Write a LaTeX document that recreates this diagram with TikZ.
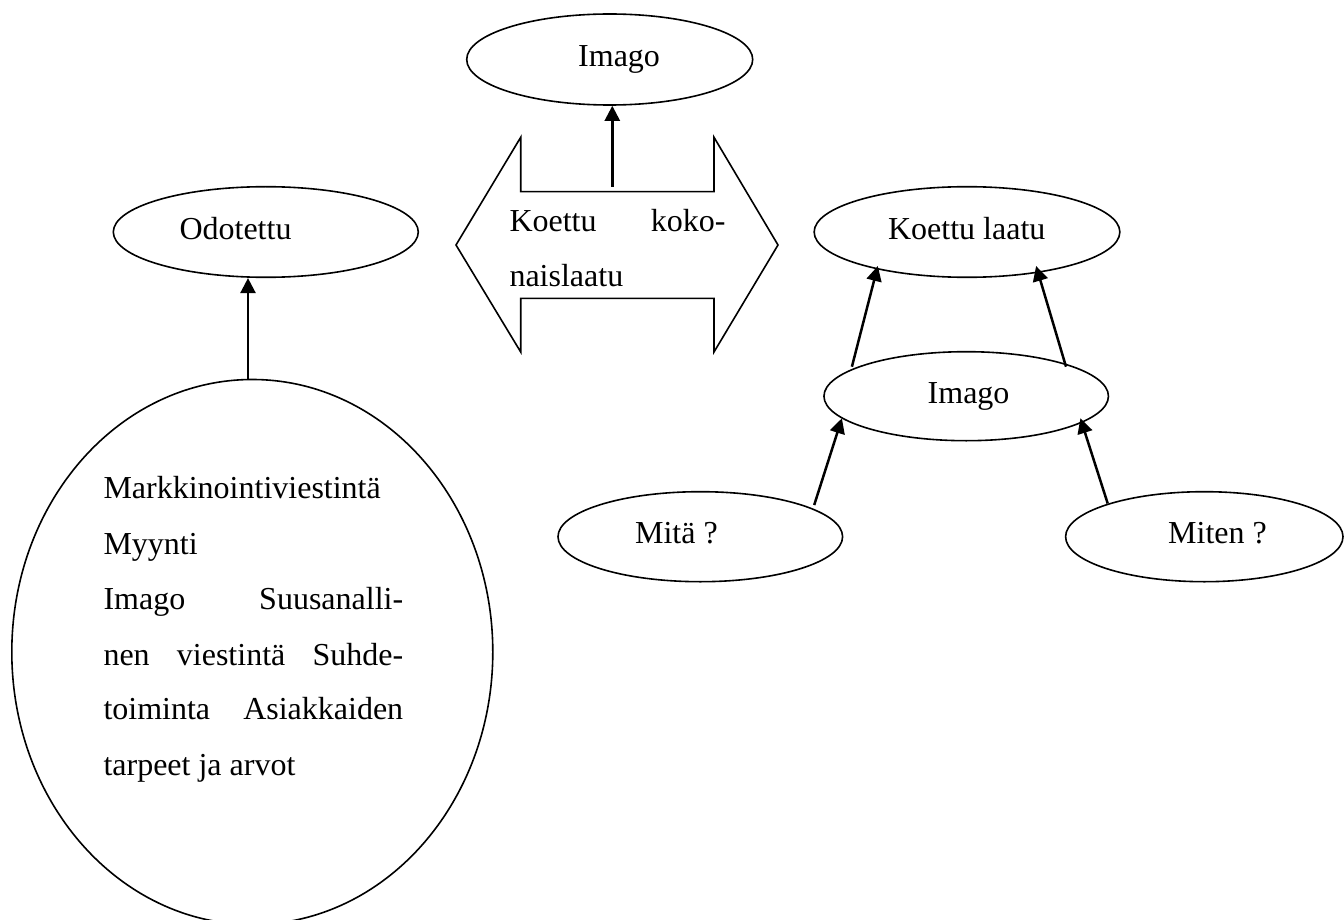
\documentclass[tikz,border=0pt]{standalone}
\usepackage{fontspec}
\setmainfont{Liberation Serif}
\usetikzlibrary{arrows.meta,shapes.geometric}
\begin{document}
\begin{tikzpicture}[x=1pt,y=-1pt,
  ell/.style={draw,ellipse,line width=1.6pt,inner sep=0pt},
  txt/.style={inner sep=0pt,anchor=base west,font=\fontsize{32}{55}\selectfont},
  conn/.style={line width=2.5pt,-{Triangle[length=15pt,width=15pt]}},
  outline/.style={line width=1.6pt,line join=miter}]
\useasboundingbox (0,0) rectangle (1344,920);
\fill[white] (0,0) rectangle (1344,920);

% ellipses
\node[ell,minimum width=286pt,minimum height=91pt] (imagoTop) at (609.7,59.5) {};
\node[ell,minimum width=305pt,minimum height=90.6pt] (odotettu) at (265.8,232) {};
\node[ell,minimum width=481pt,minimum height=545pt] (big) at (252.3,652) {};
\node[ell,minimum width=305.7pt,minimum height=90.6pt] (laatu) at (967,232) {};
\node[ell,minimum width=284.5pt,minimum height=89pt] (imagoMid) at (966.2,396.2) {};
\node[ell,minimum width=284.6pt,minimum height=90pt] (mita) at (700.3,536.7) {};
\node[ell,minimum width=277.4pt,minimum height=90pt] (miten) at (1204.3,536.7) {};

% double arrow
\coordinate (dL) at (456,245);
\coordinate (dR) at (778,245);
\draw[outline] (dL) -- (520.7,137.3) -- (520.7,191.7) -- (714,191.7) -- (714,137.3)
  -- (dR) -- (714,352) -- (714,298.3) -- (520.7,298.3) -- (520.7,352) -- cycle;

% texts
\node[txt] (tImagoTop) at (578,67) {Imago};
\node[txt] (tOdo) at (179.3,240) {Odotettu};
\node[txt] (tLaatu) at (887.9,240) {Koettu laatu};
\node[txt] (tImagoMid) at (927.5,403.3) {Imago};
\node[txt] (tMita) at (634.9,543.3) {Mitä ?};
\node[txt] (tMiten) at (1168,543.3) {Miten ?};
\node[txt] (tK1) at (509.3,231.7) {\makebox[216pt][s]{Koettu koko-}};
\node[txt] (tK2) at (509.3,286.7) {naislaatu};
\node[txt] (b1) at (103.3,498.8) {Markkinointiviestintä};
\node[txt] (b2) at (103.3,554) {Myynti};
\node[txt] (b3) at (103.3,609.3) {\makebox[299.7pt][s]{Imago Suusanalli-}};
\node[txt] (b4) at (103.3,665) {\makebox[299.7pt][s]{nen viestintä Suhde-}};
\node[txt] (b5) at (103.3,719.8) {\makebox[299.7pt][s]{toiminta Asiakkaiden}};
\node[txt] (b6) at (103.3,775) {tarpeet ja arvot};

% connectors
\coordinate (sTop) at (612.3,186.7);
\draw[conn] (sTop) -- (sTop |- imagoTop.south);
\coordinate (sOdo) at (248,379.3);
\draw[conn] (sOdo) -- (sOdo |- odotettu.south);
\coordinate (sUL) at (851.9,366.7);
\coordinate (eUL) at (877.8,266);
\coordinate (sUR) at (1066,366.7);
\coordinate (eUR) at (1036.1,266);
\coordinate (sLL) at (814.2,505);
\coordinate (eLL) at (841.9,418.3);
\coordinate (sLR) at (1107.7,503.5);
\coordinate (eLR) at (1080.4,418.3);
\draw[conn] (sUL) -- (eUL);
\draw[conn] (sUR) -- (eUR);
\draw[conn] (sLL) -- (eLL);
\draw[conn] (sLR) -- (eLR);
\end{tikzpicture}
\end{document}
